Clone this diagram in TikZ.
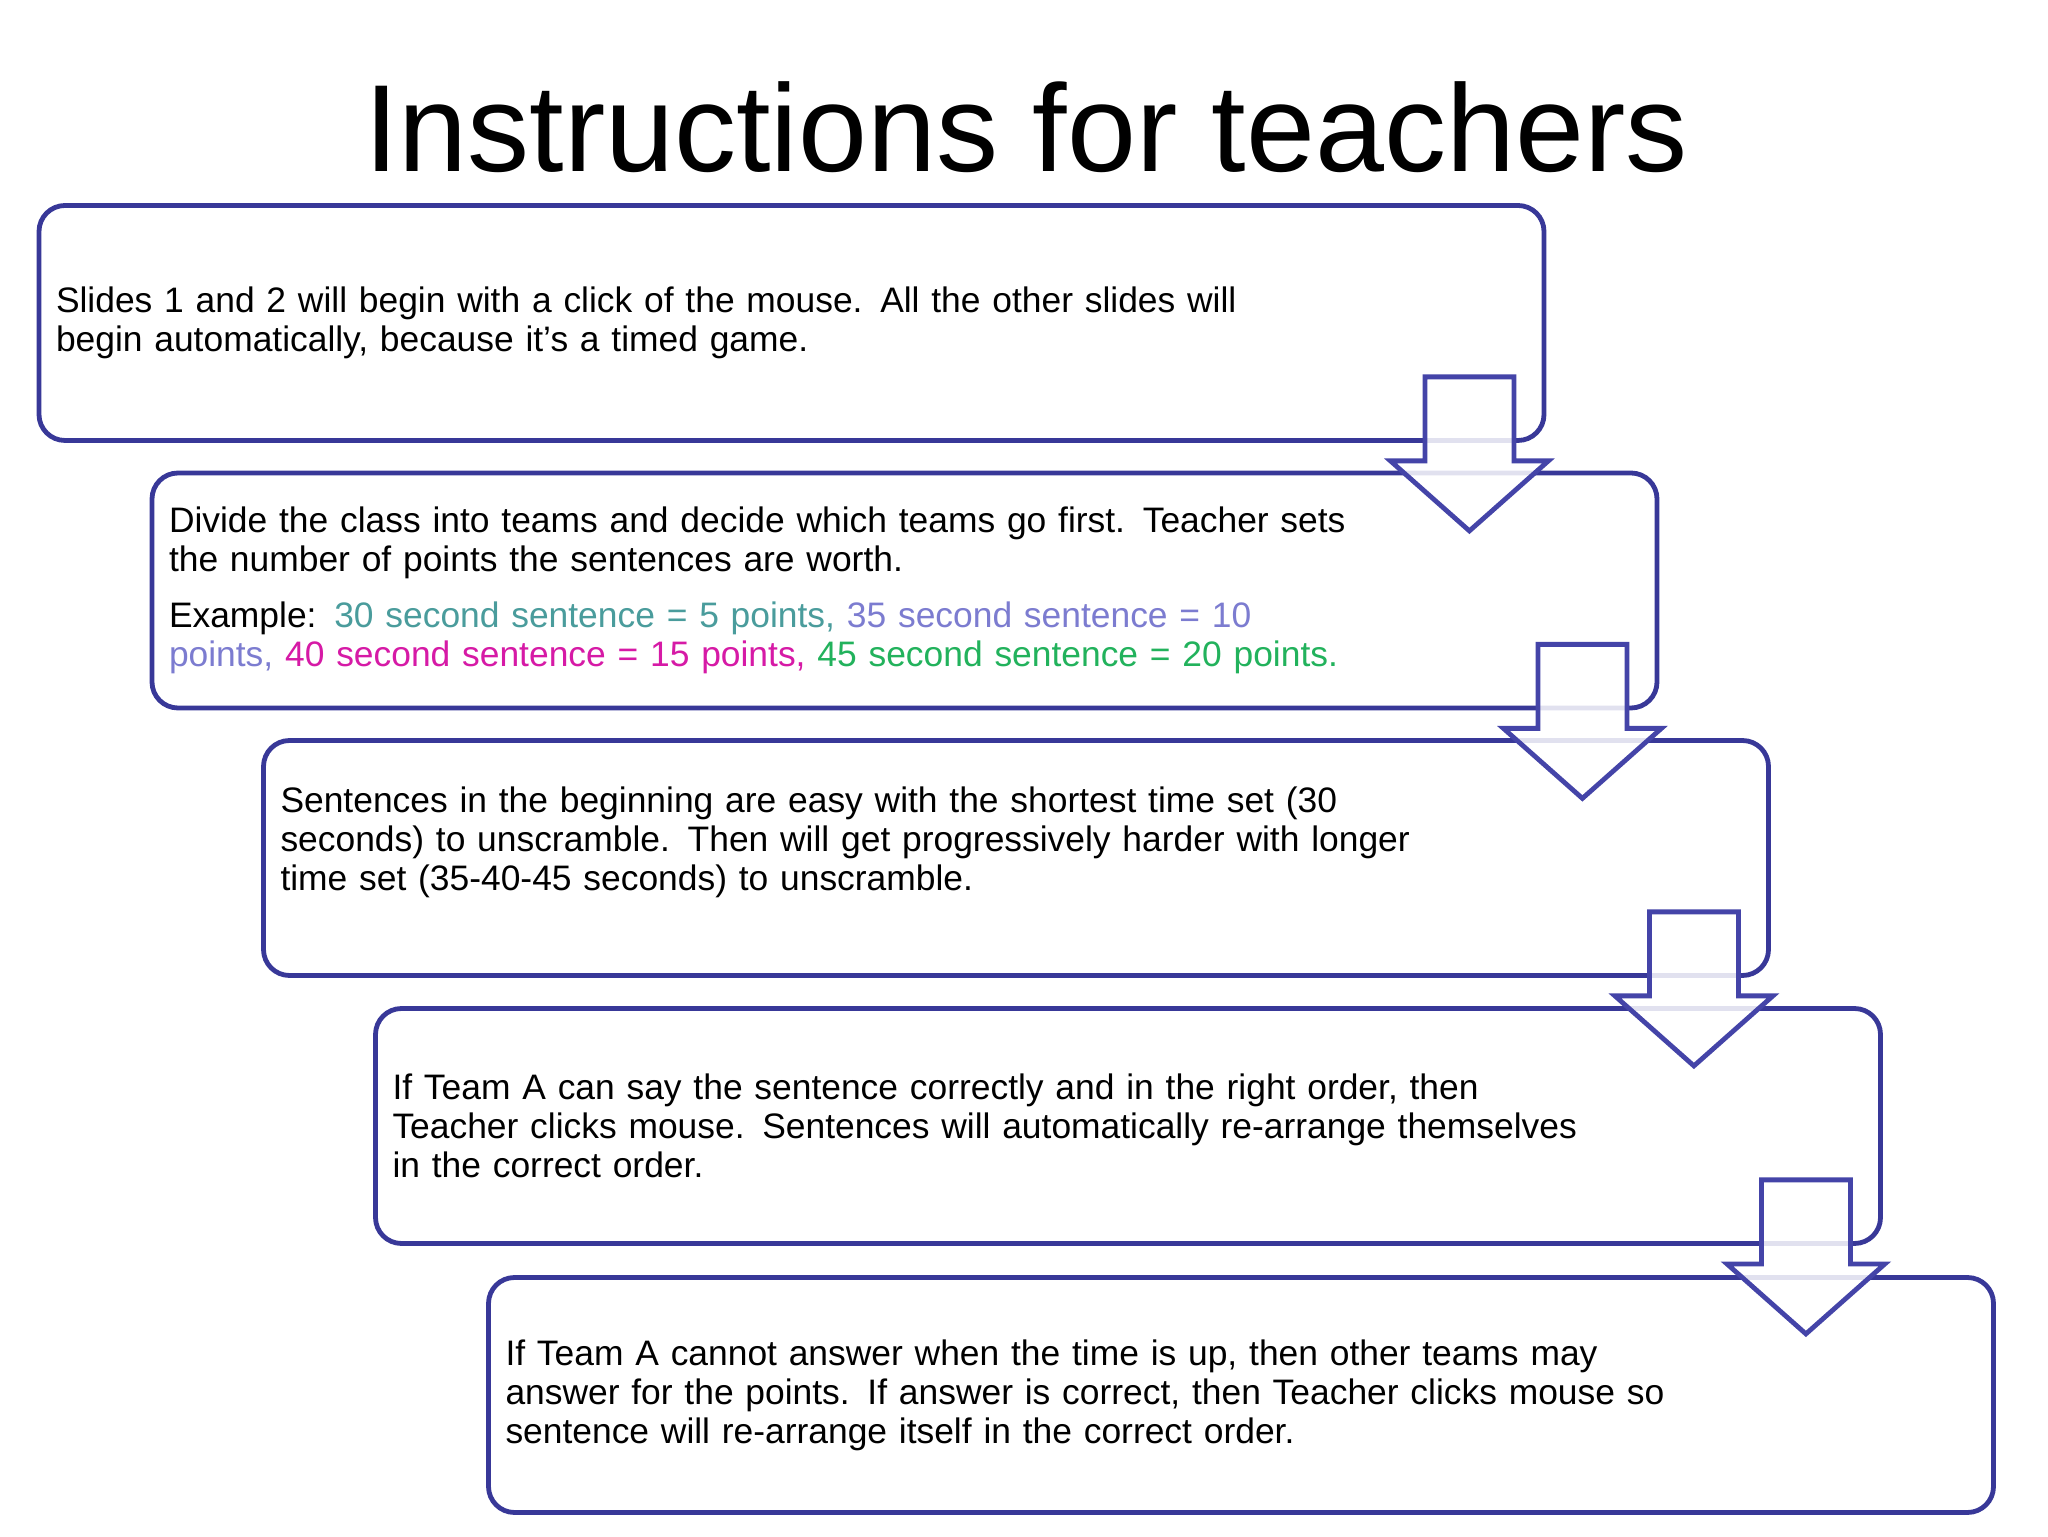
\documentclass[tikz,border=0pt]{standalone}
\usepackage{fontspec}
\setmainfont{Liberation Sans}
\usepackage{tikz}

\definecolor{boxblue}{RGB}{56,56,152}
\definecolor{arrowblue}{RGB}{68,68,168}
\definecolor{tealtext}{RGB}{74,156,156}
\definecolor{lilactext}{RGB}{124,124,208}
\definecolor{pinktext}{RGB}{214,26,166}
\definecolor{greentext}{RGB}{34,178,92}

\tikzset{
  stepbox/.style={draw=boxblue, line width=2.4pt, fill=white, rounded corners=13pt,
    minimum width=752.5pt, minimum height=117.5pt, inner xsep=8.5pt, inner ysep=0pt,
    text width=735.5pt, align=left, font=\fontsize{17.7pt}{19.5pt}\selectfont},
  arrowline/.style={draw=arrowblue, line width=2.4pt, fill=white, fill opacity=.85},
  downarrow/.pic={\path[arrowline] (-22.25pt,33pt) -- (22.25pt,33pt) -- (22.25pt,-9pt)
    -- (39.5pt,-9pt) -- (0pt,-44pt) -- (-39.5pt,-9pt) -- (-22.25pt,-9pt) -- cycle;}
}

\begin{document}
\begin{tikzpicture}[x=.5pt,y=.5pt]
\useasboundingbox (0,0) rectangle (2048,1536);
\path (1026,1364) node[anchor=base, font=\fontsize{62pt}{70pt}\selectfont] (title) {Instructions for teachers}
      (791.5,1213) node[stepbox] (b1) {Slides 1 and 2 will begin with a click of the mouse. All the other slides will\\
        begin automatically, because it’s a timed game.}
      (904.5,945.5) node[stepbox] (b2) {Divide the class into teams and decide which teams go first. Teacher sets\\
        the number of points the sentences are worth.\\[8.5pt]
        Example: \textcolor{tealtext}{30 second sentence = 5 points,} \textcolor{lilactext}{35 second sentence = 10}\\
        \textcolor{lilactext}{points,} \textcolor{pinktext}{40 second sentence = 15 points,} \textcolor{greentext}{45 second sentence = 20 points.}}
      (1016,678) node[stepbox] (b3) {Sentences in the beginning are easy with the shortest time set (30\\
        seconds) to unscramble. Then will get progressively harder with longer\\
        time set (35-40-45 seconds) to unscramble.\\ ~}
      (1128,410) node[stepbox] (b4) {If Team A can say the sentence correctly and in the right order, then\\
        Teacher clicks mouse. Sentences will automatically re-arrange themselves\\
        in the correct order.}
      (1241,141) node[stepbox] (b5) {If Team A cannot answer when the time is up, then other teams may\\
        answer for the points. If answer is correct, then Teacher clicks mouse so\\
        sentence will re-arrange itself in the correct order.};

\pic at ([xshift=-38.5pt]b1.south east) {downarrow};
\pic at ([xshift=-38.5pt]b2.south east) {downarrow};
\pic at ([xshift=-38.5pt]b3.south east) {downarrow};
\pic at ([xshift=-38.5pt]b4.south east) {downarrow};
\end{tikzpicture}
\end{document}
